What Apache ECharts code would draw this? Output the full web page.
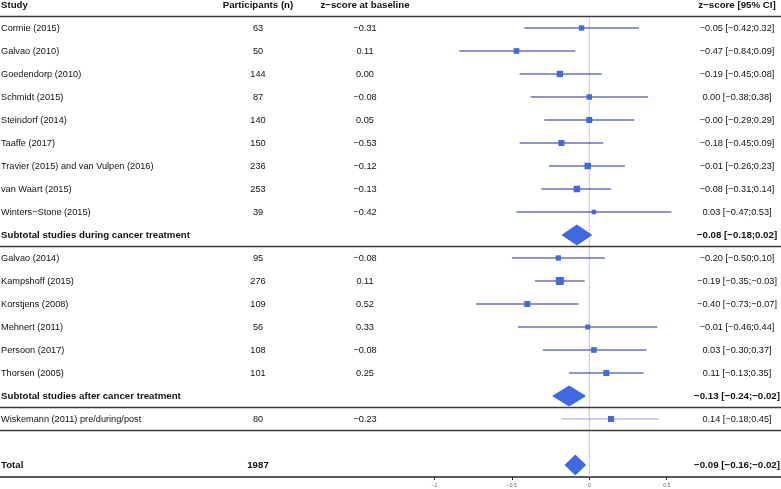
<!DOCTYPE html>
<html>
<head>
<meta charset="utf-8">
<script src="https://cdn.jsdelivr.net/npm/echarts@6/dist/echarts.min.js"></script>
<style>
  html, body { margin: 0; padding: 0; background: #fff; }
  #chart { width: 781px; height: 489px; }
</style>
</head>
<body>
<div id="chart"></div>
<script>
// rows top to bottom; '' is the empty spacer row before the total
const studyNames = [
  'Cormie (2015)', 'Galvao (2010)', 'Goedendorp (2010)', 'Schmidt (2015)', 'Steindorf (2014)',
  'Taaffe (2017)', 'Travier (2015) and van Vulpen (2016)', 'van Waart (2015)', 'Winters\u2212Stone (2015)',
  'Subtotal studies during cancer treatment',
  'Galvao (2014)', 'Kampshoff (2015)', 'Korstjens (2008)', 'Mehnert (2011)', 'Persoon (2017)', 'Thorsen (2005)',
  'Subtotal studies after cancer treatment',
  'Wiskemann (2011) pre/during/post',
  '',
  'Total'
]
const rowKind = [
  'study', 'study', 'study', 'study', 'study', 'study', 'study', 'study', 'study',
  'sub',
  'study', 'study', 'study', 'study', 'study', 'study',
  'sub',
  'other',
  'blank',
  'total'
]
const participants = ['63', '50', '144', '87', '140', '150', '236', '253', '39', '',
  '95', '276', '109', '56', '108', '101', '', '80', '', '1987']
const baselineZ = ['\u22120.31', '0.11', '0.00', '\u22120.08', '0.05', '\u22120.53', '\u22120.12', '\u22120.13', '\u22120.42', '',
  '\u22120.08', '0.11', '0.52', '0.33', '\u22120.08', '0.25', '', '\u22120.23', '', '']
const est = [-0.05, -0.47, -0.19, 0.00, -0.00, -0.18, -0.01, -0.08, 0.03, -0.08,
  -0.20, -0.19, -0.40, -0.01, 0.03, 0.11, -0.13, 0.14, null, -0.09]
const lower = [-0.42, -0.84, -0.45, -0.38, -0.29, -0.45, -0.26, -0.31, -0.47, -0.18,
  -0.50, -0.35, -0.73, -0.46, -0.30, -0.13, -0.24, -0.18, null, -0.16]
const upper = [0.32, -0.09, 0.08, 0.38, 0.29, 0.09, 0.23, 0.14, 0.53, 0.02,
  0.10, -0.03, -0.07, 0.44, 0.37, 0.35, -0.02, 0.45, null, -0.02]
const ciText = [
  '\u22120.05 [\u22120.42;0.32]', '\u22120.47 [\u22120.84;0.09]', '\u22120.19 [\u22120.45;0.08]',
  '0.00 [\u22120.38;0.38]', '\u22120.00 [\u22120.29;0.29]', '\u22120.18 [\u22120.45;0.09]',
  '\u22120.01 [\u22120.26;0.23]', '\u22120.08 [\u22120.31;0.14]', '0.03 [\u22120.47;0.53]',
  '\u22120.08 [\u22120.18;0.02]',
  '\u22120.20 [\u22120.50;0.10]', '\u22120.19 [\u22120.35;\u22120.03]', '\u22120.40 [\u22120.73;\u22120.07]',
  '\u22120.01 [\u22120.46;0.44]', '0.03 [\u22120.30;0.37]', '0.11 [\u22120.13;0.35]',
  '\u22120.13 [\u22120.24;\u22120.02]',
  '0.14 [\u22120.18;0.45]',
  '',
  '\u22120.09 [\u22120.16;\u22120.02]'
]
// study weights (%)
const weights = [6.4, 7.3, 9.0, 6.8, 8.2, 8.2, 9.6, 9.6, 4.6, null,
  6.4, 14.5, 8.2, 5.7, 7.3, 8.2, null, 8.2, null, null]
const headers = ['Study', 'Participants (n)', 'z\u2212score at baseline', 'z\u2212score [95% CI]']
const tickValues = [-1, -0.5, 0, 0.5]

// layout
const colX = [1, 258, 365, 737]
const colAlign = ['left', 'center', 'center', 'center']
const ruleRows = [0, 10, 17, 18]
const FONT = '"Liberation Sans", Arial, Helvetica, sans-serif'
const BLUE = '#4169e1'

const rowData = studyNames.map((n, i) => [0, i + 1, i])

function txt(x, y, text, align, bold, size) {
  return {
    type: 'text',
    style: {
      x: x, y: y, text: text, align: align, verticalAlign: 'middle',
      fill: '#111', fontSize: size, fontWeight: bold ? 'bold' : 'normal', fontFamily: FONT
    }
  }
}

function renderText(params, api) {
  const i = api.value(2)
  const y = api.coord([0, api.value(1)])[1]
  const bold = rowKind[i] === 'sub' || rowKind[i] === 'total'
  const cells = [studyNames[i], participants[i], baselineZ[i], ciText[i]]
  const children = []
  cells.forEach((t, c) => {
    if (t) children.push(txt(colX[c], y, t, colAlign[c], bold, bold ? 9.7 : 9.2))
  })
  return { type: 'group', children: children }
}

function renderHeader(params, api) {
  const y = api.coord([0, 0])[1]
  return {
    type: 'group',
    children: headers.map((h, c) => txt(colX[c], y, h, colAlign[c], true, 9.7))
  }
}

function renderRules(params, api) {
  const cs = params.coordSys
  const k = api.value(1)
  const y = Math.round(api.coord([0, k + 0.5])[1]) + 0.5
  return {
    type: 'line',
    shape: { x1: cs.x, y1: y, x2: cs.x + cs.width, y2: y },
    style: { stroke: '#3a3a3a', lineWidth: 1.4 }
  }
}

function renderZero(params, api) {
  const cs = params.coordSys
  const p = api.coord([0, 0.5])
  return {
    type: 'line',
    shape: { x1: p[0], y1: p[1], x2: p[0], y2: cs.y + cs.height },
    style: { stroke: '#c8c8c8', lineWidth: 1 }
  }
}

function renderMarks(params, api) {
  const i = api.value(2)
  const k = api.value(1)
  const kind = rowKind[i]
  if (kind === 'blank') return null
  const y = api.coord([0, k])[1]
  const xl = api.coord([lower[i], k])[0]
  const xe = api.coord([est[i], k])[0]
  const xu = api.coord([upper[i], k])[0]
  if (kind === 'study' || kind === 'other') {
    const s = Math.sqrt(weights[i]) * 2.1
    return {
      type: 'group',
      children: [
        { type: 'line', shape: { x1: xl, y1: y, x2: xu, y2: y },
          style: { stroke: kind === 'other' ? '#97a0dc' : '#1e2b9c', lineWidth: 1.2 } },
        { type: 'rect', shape: { x: xe - s / 2, y: y - s / 2, width: s, height: s },
          style: { fill: BLUE } }
      ]
    }
  }
  const h = 10.5
  return {
    type: 'polygon',
    shape: { points: [[xl, y], [xe, y - h], [xu, y], [xe, y + h]] },
    style: { fill: BLUE }
  }
}

const chart = echarts.init(document.getElementById('chart'))
chart.setOption({
  animation: false,
  grid: { left: 0, right: 0, top: 0, bottom: 12, containLabel: false, outerBoundsMode: 'none' },
  xAxis: {
    type: 'value',
    min: -3.804,
    max: 1.2376,
    axisLine: { show: true, onZero: false, lineStyle: { color: '#222', width: 1.5 } },
    axisTick: { show: true, customValues: tickValues, length: 3, lineStyle: { color: '#222' } },
    axisLabel: {
      customValues: tickValues,
      fontSize: 5,
      color: '#555',
      margin: 6,
      fontFamily: FONT,
      formatter: v => String(v).replace('-', '\u2212')
    },
    splitLine: { show: false }
  },
  yAxis: {
    type: 'value',
    inverse: true,
    min: -0.2174,
    max: 20.522,
    show: false
  },
  series: [
    { type: 'custom', renderItem: renderZero, data: [[0, 0, 0]], clip: false, silent: true, z: 1 },
    { type: 'custom', renderItem: renderRules, data: ruleRows.map(k => [0, k, 0]), clip: false, silent: true, z: 2 },
    { type: 'custom', renderItem: renderMarks, data: rowData, clip: false, z: 3 },
    { type: 'custom', renderItem: renderHeader, data: [[0, 0, 0]], clip: false, silent: true, z: 4 },
    { type: 'custom', renderItem: renderText, data: rowData, clip: false, silent: true, z: 4 }
  ]
})
</script>
</body>
</html>
